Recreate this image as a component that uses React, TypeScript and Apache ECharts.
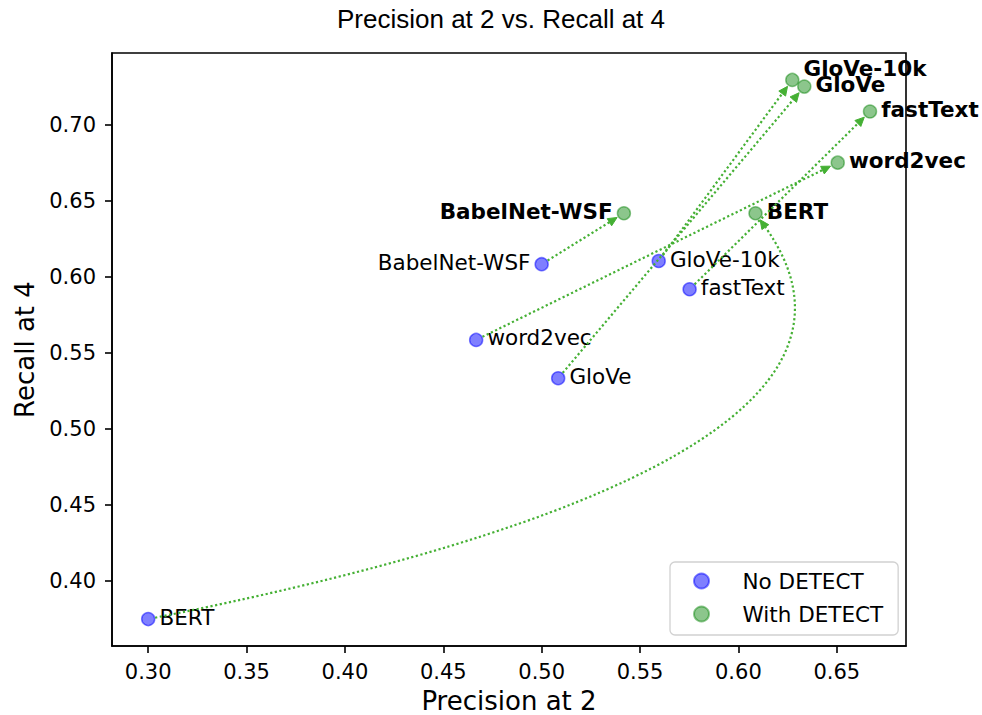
import React, { useEffect, useRef } from "react";
import * as echarts from "echarts";

// ---------- data ----------
const models = ["BERT", "word2vec", "GloVe", "BabelNet-WSF", "GloVe-10k", "fastText"];
const precisionNoDetect = [0.3, 0.4667, 0.5084, 0.5, 0.5595, 0.5752];
const recallNoDetect = [0.375, 0.5586, 0.5334, 0.6084, 0.6105, 0.5919];
const precisionWithDetect = [0.6087, 0.6505, 0.6335, 0.5418, 0.6274, 0.6669];
const recallWithDetect = [0.6419, 0.6752, 0.7252, 0.6419, 0.7296, 0.7088];
// the BERT arrow is drawn as a curve through this control point (data units)
const curvedArrowModel = "BERT";
const curvedArrowControl = [0.6987, 0.4778];

const xTicks = [0.3, 0.35, 0.4, 0.45, 0.5, 0.55, 0.6, 0.65];
const yTicks = [0.4, 0.45, 0.5, 0.55, 0.6, 0.65, 0.7];
const xRange = [0.2816, 0.6852];
const yRange = [0.3573, 0.7473];

// ---------- styles ----------
const FONT = "DejaVu Sans";
const ARROW = "#45b034";
const leftLabeled = new Set(["BabelNet-WSF"]);
const raisedWithDetect = new Set(["GloVe-10k"]);

function unit(dx: number, dy: number) {
  const l = Math.hypot(dx, dy) || 1;
  return [dx / l, dy / l];
}

function makeArrowRender(curved: boolean) {
  return (params: any, api: any) => {
    const s = api.coord([api.value(0), api.value(1)]);
    const e = api.coord([api.value(2), api.value(3)]);
    const c = curved ? api.coord([api.value(4), api.value(5)]) : null;
    const ds = c ? unit(c[0] - s[0], c[1] - s[1]) : unit(e[0] - s[0], e[1] - s[1]);
    const de = c ? unit(e[0] - c[0], e[1] - c[1]) : unit(e[0] - s[0], e[1] - s[1]);
    const shrinkA = 7;
    const shrinkB = 8;
    const headLen = 9;
    const headHalf = 4.2;
    const a = [s[0] + ds[0] * shrinkA, s[1] + ds[1] * shrinkA];
    const tip = [e[0] - de[0] * shrinkB, e[1] - de[1] * shrinkB];
    const base = [tip[0] - de[0] * headLen, tip[1] - de[1] * headLen];
    const n = [-de[1], de[0]];
    const lineStyle = { stroke: ARROW, lineWidth: 2.2, lineDash: [2.2, 2.5], fill: "none" };
    const body = c
      ? {
          type: "bezierCurve",
          shape: { x1: a[0], y1: a[1], x2: base[0], y2: base[1], cpx1: c[0], cpy1: c[1] },
          style: lineStyle,
        }
      : {
          type: "line",
          shape: { x1: a[0], y1: a[1], x2: base[0], y2: base[1] },
          style: lineStyle,
        };
    const head = {
      type: "polygon",
      shape: {
        points: [
          tip,
          [base[0] + n[0] * headHalf, base[1] + n[1] * headHalf],
          [base[0] - n[0] * headHalf, base[1] - n[1] * headHalf],
        ],
      },
      style: { fill: ARROW, stroke: ARROW, lineWidth: 1 },
    };
    return { type: "group", children: [body, head] };
  };
}

export default function App() {
  const ref = useRef<HTMLDivElement>(null);

  useEffect(() => {
    if (!ref.current) return;
    const chart = echarts.init(ref.current, undefined, { renderer: "svg" });

    const labelBase = {
      show: true,
      formatter: "{b}",
      color: "#000",
      fontFamily: FONT,
      fontSize: 21.5,
      distance: 4,
    };

    const noData = models.map((m, i) => ({
      name: m,
      value: [precisionNoDetect[i], recallNoDetect[i]],
      label: {
        position: leftLabeled.has(m) ? "left" : "right",
        offset: [0, -2],
      },
    }));
    const withData = models.map((m, i) => ({
      name: m,
      value: [precisionWithDetect[i], recallWithDetect[i]],
      label: {
        position: leftLabeled.has(m) ? "left" : "right",
        offset: [0, raisedWithDetect.has(m) ? -11 : -2],
      },
    }));

    const straightArrows: number[][] = [];
    const curvedArrows: number[][] = [];
    models.forEach((m, i) => {
      if (m === curvedArrowModel) {
        curvedArrows.push([
          precisionNoDetect[i],
          recallNoDetect[i],
          precisionWithDetect[i],
          recallWithDetect[i],
          curvedArrowControl[0],
          curvedArrowControl[1],
        ]);
      } else {
        straightArrows.push([
          precisionNoDetect[i],
          recallNoDetect[i],
          precisionWithDetect[i],
          recallWithDetect[i],
        ]);
      }
    });

    const axisCommon = {
      type: "value",
      nameLocation: "middle",
      nameTextStyle: { fontFamily: FONT, fontSize: 26, color: "#000" },
      axisLine: { show: true, onZero: false, lineStyle: { color: "#000", width: 1.6 } },
      splitLine: { show: false },
    };

    chart.setOption({
      animation: false,
      backgroundColor: "#fff",
      title: {
        text: "Precision at 2 vs. Recall at 4",
        left: 501,
        top: 6,
        padding: 0,
        textAlign: "center",
        textVerticalAlign: "top",
        textStyle: { fontFamily: "Liberation Sans", fontSize: 26, fontWeight: "normal", color: "#000" },
      },
      grid: {
        left: 112,
        top: 53,
        width: 794,
        height: 593,
        show: true,
        borderColor: "#000",
        borderWidth: 1.6,
        backgroundColor: "transparent",
        containLabel: false,
        outerBoundsMode: "none",
      },
      legend: {
        data: ["No DETECT", "With DETECT"],
        orient: "vertical",
        left: 670,
        top: 562,
        padding: [7, 15, 9, 23],
        itemWidth: 40,
        itemHeight: 15,
        itemGap: 9,
        icon: "circle",
        selectedMode: false,
        backgroundColor: "rgba(255,255,255,0.8)",
        borderColor: "rgba(204,204,204,0.9)",
        borderWidth: 1.3,
        borderRadius: 5,
        textStyle: { fontFamily: FONT, fontSize: 21.5, color: "#000", lineHeight: 24, padding: [0, 0, 0, 16] },
      },
      xAxis: {
        ...axisCommon,
        min: xRange[0],
        max: xRange[1],
        name: "Precision at 2",
        nameGap: 42,
        axisTick: { show: true, length: 7, lineStyle: { color: "#000", width: 1.6 }, customValues: xTicks },
        axisLabel: {
          customValues: xTicks,
          formatter: (v: number) => v.toFixed(2),
          fontFamily: FONT,
          fontSize: 21,
          color: "#000",
          margin: 15,
        },
      },
      yAxis: {
        ...axisCommon,
        min: yRange[0],
        max: yRange[1],
        name: "Recall at 4",
        nameGap: 72,
        axisTick: { show: true, length: 7, lineStyle: { color: "#000", width: 1.6 }, customValues: yTicks },
        axisLabel: {
          customValues: yTicks,
          formatter: (v: number) => v.toFixed(2),
          fontFamily: FONT,
          fontSize: 21,
          color: "#000",
          margin: 16,
        },
      },
      series: [
        {
          type: "scatter",
          name: "No DETECT",
          symbol: "circle",
          symbolSize: 13,
          z: 2,
          itemStyle: {
            color: "rgba(0,0,255,0.5)",
            borderColor: "rgba(0,0,255,0.5)",
            borderWidth: 1.5,
            opacity: 1,
          },
          label: { ...labelBase },
          emphasis: { disabled: true },
          data: noData,
        },
        {
          type: "scatter",
          name: "With DETECT",
          symbol: "circle",
          symbolSize: 13,
          z: 2,
          itemStyle: {
            color: "rgba(0,128,0,0.45)",
            borderColor: "rgba(0,128,0,0.45)",
            borderWidth: 1.5,
            opacity: 1,
          },
          label: { ...labelBase, fontWeight: "bold" },
          emphasis: { disabled: true },
          data: withData,
        },
        {
          type: "custom",
          name: "arrows",
          z: 3,
          silent: true,
          clip: false,
          renderItem: makeArrowRender(false),
          data: straightArrows,
        },
        {
          type: "custom",
          name: "curvedArrow",
          z: 3,
          silent: true,
          clip: false,
          renderItem: makeArrowRender(true),
          data: curvedArrows,
        },
      ],
    });

    return () => chart.dispose();
  }, []);

  return (
    <div
      ref={ref}
      style={{ position: "fixed", left: 0, top: 0, width: 982, height: 715 }}
    />
  );
}
